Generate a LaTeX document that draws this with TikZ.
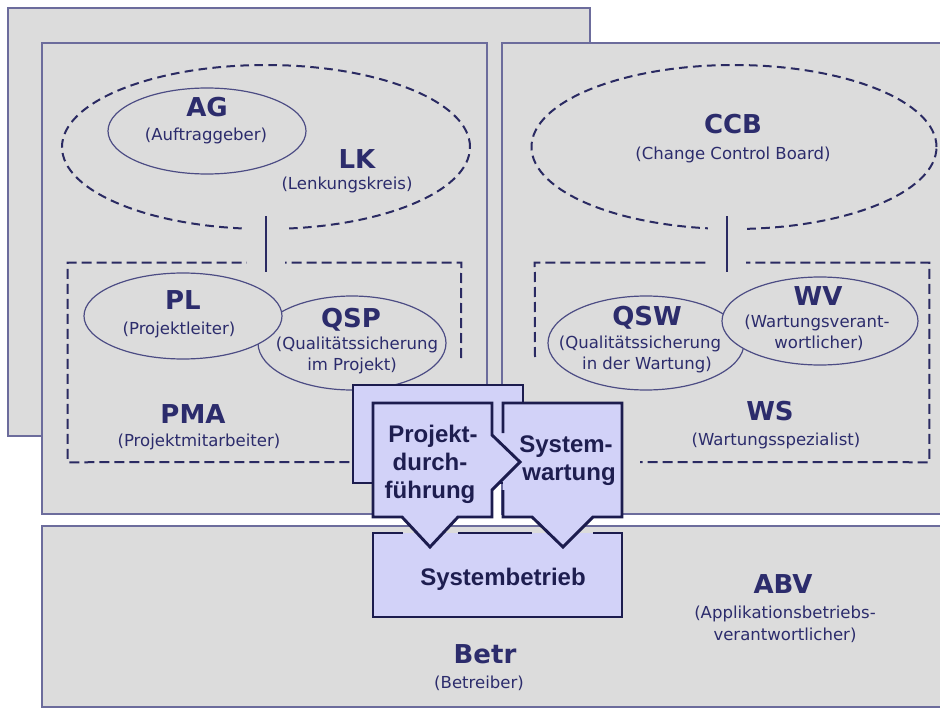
\documentclass[tikz,border=0pt]{standalone}
\usepackage{fontspec}
\setmainfont{DejaVu Sans}
\newfontfamily\pictfont{Liberation Sans}
\usetikzlibrary{shapes.geometric,fit}
\newcommand{\pxu}{0.75pt}
\definecolor{panelfill}{HTML}{DCDCDC}
\definecolor{panelline}{HTML}{6C6C9C}
\definecolor{ink}{HTML}{2C2C6C}
\definecolor{ringline}{HTML}{4C4C84}
\definecolor{dashink}{HTML}{2A2A62}
\definecolor{pictfill}{HTML}{D2D2F8}
\definecolor{pictline}{HTML}{1C1C4E}
\definecolor{pictink}{HTML}{1E1E50}
\begin{document}
\begin{tikzpicture}[x=0.75pt,y=-0.75pt,
  panel/.style={draw=panelline, line width=1.1pt, fill=panelfill, inner sep=0pt},
  ring/.style={ellipse, draw=ringline, line width=0.9pt, fill=panelfill, inner sep=0pt},
  dashring/.style={ellipse, draw=dashink, line width=1.5pt, dash pattern=on 6.5pt off 4pt, inner sep=0pt},
  area/.style={draw=none, inner sep=0pt},
  dashline/.style={draw=dashink, line width=1.5pt, dash pattern=on 7.5pt off 3.75pt},
  conn/.style={draw=dashink, line width=1.6pt},
  gapline/.style={draw=panelfill, line width=28pt},
  title/.style={font=\fontsize{19.5}{23}\selectfont\bfseries, text=ink, anchor=base, inner sep=0pt},
  sub/.style={font=\fontsize{12.4}{15}\selectfont, text=ink, anchor=base, inner sep=0pt},
  pictedge/.style={draw=pictline, line width=2.2pt, line join=miter},
  pict/.style={pictedge, fill=pictfill},
  picttext/.style={font=\pictfont\fontsize{18}{21}\selectfont\bfseries, text=pictink, anchor=base, inner sep=0pt}
]
\useasboundingbox[fill=white] (0,0) rectangle (940,710);

% organisation panels
\node[panel, fit={(8,8)(590,436)}] (org) {};
\node[panel, fit={(42,43)(487,514)}] (proj) {};
\node[panel, fit={(502,43)(960,514)}] (wart) {};
\node[panel, fit={(42,526)(960,707)}] (betr) {};

% project side
\node[dashring, minimum width=408*\pxu, minimum height=164*\pxu] (lk) at (266,147) {};
\node[ring, minimum width=198*\pxu, minimum height=86*\pxu] (ag) at (207,131) {};
\node[area, fit={(68,263)(461,462)}] (pma) {};
\draw[dashline] (461,358) -- (pma.north east) -- (pma.north west) -- (pma.south west) -- (353,462);
\node[ring, minimum width=188*\pxu, minimum height=94*\pxu] (qsp) at (352,343) {};
\node[ring, minimum width=198*\pxu, minimum height=86*\pxu] (pl) at (183,316) {};
\draw[gapline, shorten <=-6pt, shorten >=-3.75pt] (lk.south) -- (lk.south |- pma.north);
\draw[conn, shorten <=-10.5pt, shorten >=-6.75pt] (lk.south) -- (lk.south |- pma.north);

\node[title] (agt) at (207,117) {AG};
\node[sub] (ags) at (206,141) {(Auftraggeber)};
\node[title] (lkt) at (357,168) {LK};
\node[sub] (lks) at (347,190) {(Lenkungskreis)};
\node[title] (plt) at (183,309) {PL};
\node[sub] (pls) at (179,334) {(Projektleiter)};
\node[title] (qspt) at (351,327) {QSP};
\node[sub] (qsps) at (357,349) {(Qualitätssicherung};
\node[sub] (qsps2) at (352,370) {im Projekt)};
\node[title] (pmat) at (193,423) {PMA};
\node[sub] (pmas) at (199,446) {(Projektmitarbeiter)};

% maintenance side
\node[dashring, minimum width=405*\pxu, minimum height=164*\pxu] (ccb) at (734,147) {};
\node[area, fit={(535,263)(929,462)}] (ws) {};
\draw[dashline] (535,357) -- (ws.north west) -- (ws.north east) -- (ws.south east) -- (640,462);
\node[ring, minimum width=196*\pxu, minimum height=94*\pxu] (qsw) at (646,343) {};
\node[ring, minimum width=196*\pxu, minimum height=88*\pxu] (wv) at (820,321) {};
\coordinate (ccbx) at (727,0);
\draw[gapline, shorten <=-6pt, shorten >=-3.75pt] (ccbx |- ccb.south) -- (ccbx |- ws.north);
\draw[conn, shorten <=-10.5pt, shorten >=-6.75pt] (ccbx |- ccb.south) -- (ccbx |- ws.north);

\node[title] (ccbt) at (733,133) {CCB};
\node[sub] (ccbs) at (733,160) {(Change Control Board)};
\node[title] (qswt) at (647,325) {QSW};
\node[sub] (qsws) at (640,348) {(Qualitätssicherung};
\node[sub] (qsws2) at (647,369) {in der Wartung)};
\node[title] (wvt) at (818,305) {WV};
\node[sub] (wvs) at (817,327) {(Wartungsverant-};
\node[sub] (wvs2) at (819,348) {wortlicher)};
\node[title] (wst) at (770,420) {WS};
\node[sub] (wss) at (776,445) {(Wartungsspezialist)};

% operation side
\node[title] (abvt) at (783,593) {ABV};
\node[sub] (abvs) at (785,618) {(Applikationsbetriebs-};
\node[sub] (abvs2) at (785,640) {verantwortlicher)};
\node[title] (betrt) at (485,663) {Betr};
\node[sub] (betrs) at (479,688) {(Betreiber)};

% process pictogram
\node[pict, inner sep=0pt, fit={(353,385)(523,483)}] (pback) {};
\node[fill=pictfill, inner sep=0pt, fit={(373,533)(622,617)}] (sbox) {};
\draw[pictedge] (403,533) -- (373,533) -- (373,617) -- (622,617) -- (622,533) -- (593,533);
\draw[pictedge] (458,533) -- (532,533);
\fill[pictfill] (503,403) -- (622,403) -- (622,517) -- (593,517) -- (563,547) -- (532,517) -- (503,517) -- cycle;
\draw[pictedge] (503,433) -- (503,403) -- (622,403) -- (622,517) -- (593,517) -- (563,547) -- (532,517) -- (503,517) -- (503,490);
\draw[pict] (373,403) -- (492,403) -- (492,435) -- (520,462) -- (492,490) -- (492,517) -- (458,517) -- (430,547) -- (402,517) -- (373,517) -- cycle;

\node[picttext] (pd1) at (433,442) {Projekt-};
\node[picttext] (pd2) at (430,470) {durch-};
\node[picttext] (pd3) at (430,498) {führung};
\node[picttext] (sw1) at (566,452) {System-};
\node[picttext] (sw2) at (569,480) {wartung};
\node[picttext] (sbt) at (503,585) {Systembetrieb};
\end{tikzpicture}
\end{document}
